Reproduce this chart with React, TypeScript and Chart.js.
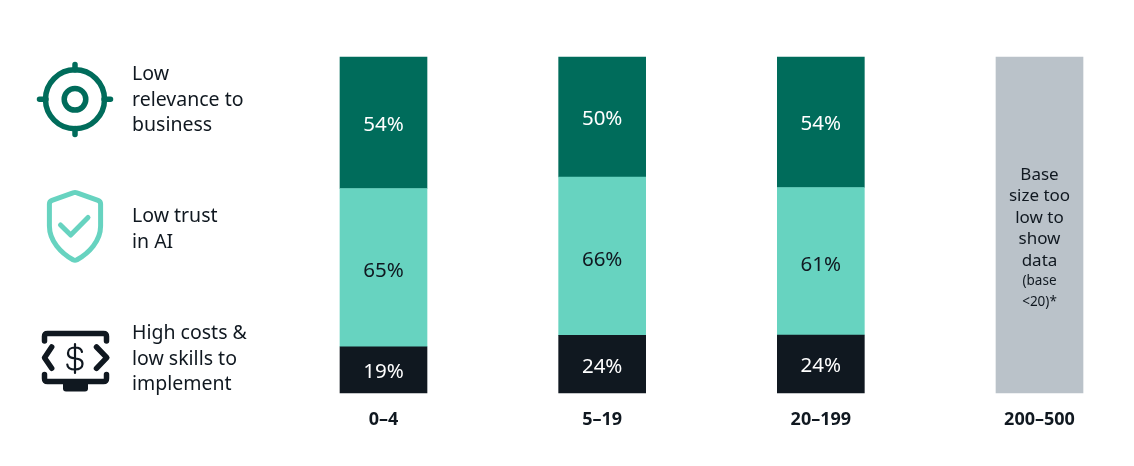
import { useEffect, useRef } from 'react';
import { Chart, registerables } from 'chart.js';

Chart.register(...registerables);

const FONT = '"Noto Sans", sans-serif';

const categories = ['0–4', '5–19', '20–199', '200–500'];

// percentages as printed on the bars, null where there is no data
const highCosts = [19, 24, 24, null];
const lowTrust = [65, 66, 61, null];
const lowRelevance = [54, 50, 54, null];
const noData = [null, null, null, 100];

const noDataLines = ['Base', 'size too', 'low to', 'show', 'data'];
const noDataSmallLines = ['(base', '<20)*'];

const DARK_GREEN = '#006c5b';
const TEAL = '#67d3c0';
const INK = '#101820';
const GREY = '#bac2c9';

// bars are all the same height, so each value is shown as share of its column
const share = (series: (number | null)[]) =>
    series.map((v, i) => {
        if (v === null) return null;
        const total = (highCosts[i] ?? 0) + (lowTrust[i] ?? 0) + (lowRelevance[i] ?? 0);
        return (v / total) * 100;
    });

const printed = [highCosts, lowTrust, lowRelevance];
const labelColors = ['#ffffff', INK, '#ffffff'];
const labelNudge = [2.5, 4, 2];

const barLabels = {
    id: 'barLabels',
    afterDatasetsDraw(chart: Chart) {
        const ctx = chart.ctx;
        ctx.save();
        ctx.textAlign = 'center';
        ctx.textBaseline = 'middle';

        printed.forEach((series, d) => {
            ctx.fillStyle = labelColors[d];
            ctx.font = `20.5px ${FONT}`;
            chart.getDatasetMeta(d).data.forEach((bar: any, i) => {
                if (series[i] === null) return;
                ctx.fillText(`${series[i]}%`, bar.x, (bar.y + bar.base) / 2 + labelNudge[d]);
            });
        });

        // the grey column carries a note instead of a number
        const grey: any = chart.getDatasetMeta(3).data[3];
        ctx.fillStyle = INK;
        ctx.font = `17px ${FONT}`;
        noDataLines.forEach((line, i) => {
            ctx.fillText(line, grey.x, 175 + i * 21.5);
        });
        ctx.font = `13.5px ${FONT}`;
        noDataSmallLines.forEach((line, i) => {
            ctx.fillText(line, grey.x, 281.5 + i * 21);
        });
        ctx.restore();
    },
};

function TargetIcon() {
    return (
        <svg style={iconStyle} width="140" height="466" fill="none" stroke={DARK_GREEN} strokeWidth="5.5" strokeLinecap="round">
            <circle cx="75" cy="99.3" r="29.5" />
            <circle cx="75" cy="99.3" r="10.8" />
            <path d="M75 64.5V70M75 128.5V134.5M39.5 99.3H46M104 99.3H110.5" />
        </svg>
    );
}

function ShieldIcon() {
    return (
        <svg style={iconStyle} width="140" height="466" fill="none" stroke={TEAL} strokeWidth="5" strokeLinecap="round" strokeLinejoin="round">
            <path d="M73 192.8Q75 192 77 192.8L98 200.3Q100.6 201.3 100.6 204V226C100.6 241 89 253 77 259.8Q75 260.8 73 259.8C61 253 49.4 241 49.4 226V204Q49.4 201.3 52 200.3Z" />
            <path d="M60.5 225L70.7 235L88 217.5" />
        </svg>
    );
}

function MoneyIcon() {
    return (
        <svg style={iconStyle} width="140" height="466" fill="none" stroke={INK} strokeWidth="5.5" strokeLinecap="round" strokeLinejoin="round">
            <path d="M44.5 341V336.5Q44.5 333.5 47.5 333.5H103.5Q106.5 333.5 106.5 336.5V341" />
            <path d="M44.5 374.5V378.5Q44.5 381.5 47.5 381.5H103.5Q106.5 381.5 106.5 378.5V374.5" />
            <path d="M51.7 347L44.5 357.7L51.7 368.3M96.5 347L106.8 357.7L96.5 368.3" />
            <path d="M63 384H88V388.5Q88 391.5 85 391.5H66Q63 391.5 63 388.5Z" fill={INK} stroke="none" />
            <path strokeWidth="2.2" d="M82 352C81.5 349 79 347.5 75 347.5C70.5 347.5 68 350 68 353C68 362 82.5 355 82.5 364C82.5 367 80 369.5 75 369.5C70.5 369.5 67.5 367.5 67.3 364.5M75 344V373" />
        </svg>
    );
}

const iconStyle: React.CSSProperties = { position: 'absolute', left: 0, top: 0 };

function LegendText({ top, lines }: { top: number; lines: string[] }) {
    return (
        <div
            style={{
                position: 'absolute',
                left: 132,
                top,
                font: `19.5px/25.5px ${FONT}`,
                color: INK,
                whiteSpace: 'nowrap',
            }}
        >
            {lines.map(line => (
                <div key={line}>{line}</div>
            ))}
        </div>
    );
}

export default function App() {
    const chartRef = useRef<HTMLCanvasElement>(null);

    useEffect(() => {
        if (!chartRef.current) return;

        const chart = new Chart(chartRef.current, {
            type: 'bar',
            data: {
                labels: categories,
                datasets: [
                    { label: 'High costs & low skills to implement', data: share(highCosts), backgroundColor: INK },
                    { label: 'Low trust in AI', data: share(lowTrust), backgroundColor: TEAL },
                    { label: 'Low relevance to business', data: share(lowRelevance), backgroundColor: DARK_GREEN },
                    { label: 'Base size too low to show data', data: noData, backgroundColor: GREY },
                ].map(ds => ({ ...ds, barThickness: 87, clip: false as const })),
            },
            options: {
                animation: false,
                responsive: false,
                layout: { padding: { left: 383.5, right: 94.5, top: 57, bottom: 27 } },
                scales: {
                    x: {
                        stacked: true,
                        offset: false,
                        grid: { display: false },
                        border: { display: false },
                        afterFit: (scale: any) => {
                            scale.height = 46;
                        },
                        ticks: {
                            color: INK,
                            padding: 8,
                            maxRotation: 0,
                            autoSkip: false,
                            font: { family: FONT, size: 18, weight: 'bold' },
                        },
                    },
                    y: { stacked: true, display: false, min: 0, max: 100 },
                },
                plugins: {
                    legend: { display: false },
                    tooltip: { enabled: false },
                },
            },
            plugins: [barLabels],
        });

        return () => {
            chart.destroy();
        };
    }, []);

    return (
        <div style={{ position: 'fixed', left: 0, top: 0, width: 1134, height: 466, background: '#fff' }}>
            <canvas ref={chartRef} width={1134} height={466} style={{ position: 'absolute', left: 0, top: 0 }} />
            <TargetIcon />
            <ShieldIcon />
            <MoneyIcon />
            <LegendText top={60} lines={['Low', 'relevance to', 'business']} />
            <LegendText top={202} lines={['Low trust', 'in AI']} />
            <LegendText top={319} lines={['High costs &', 'low skills to', 'implement']} />
        </div>
    );
}
